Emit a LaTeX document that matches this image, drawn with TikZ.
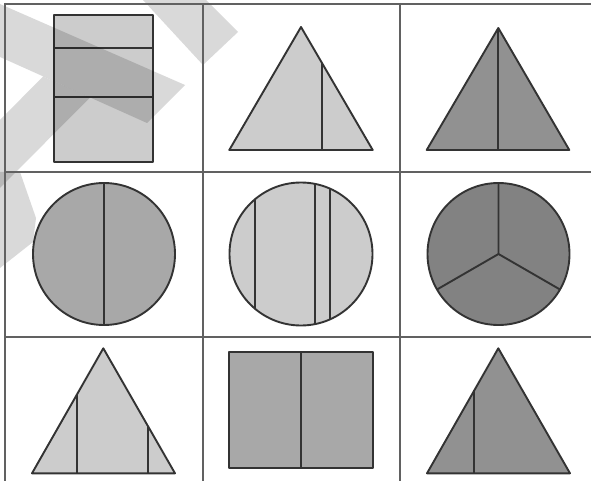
\documentclass[tikz,border=0pt]{standalone}
\begin{document}
\begin{tikzpicture}[x=1pt,y=-1pt,
  shp/.style={draw=black!80,line width=1.9pt,line join=round},
  grid/.style={draw=black!62,line width=2.5pt},
  light/.style={fill=black!20},
  mid/.style={fill=black!34},
  dark/.style={fill=black!43},
  darker/.style={fill=black!49},
  wm/.style={fill=black,fill opacity=0.15,draw=none}]
\useasboundingbox (0,0) rectangle (591,481);
\fill[white] (0,0) rectangle (591,481);

% cell (0,0): rectangle with two horizontal lines
\coordinate (r1a) at (54,15); \coordinate (r1b) at (153,162);
\draw[shp,light] (r1a) rectangle (r1b);
\draw[shp] (54,48) -- (153,48) (54,97) -- (153,97);

% cell (0,1): triangle, line right of centre
\draw[shp,light] (301,27) -- (372.7,150) -- (229.3,150) -- cycle;
\draw[shp] (322,63) -- (322,150);

% cell (0,2): triangle halved
\draw[shp,dark] (498.3,28) -- (569.3,150) -- (426.7,150) -- cycle;
\draw[shp] (498.3,28) -- (498.3,150);

% cell (1,0): circle halved
\coordinate (c1) at (104,254);
\draw[shp,mid] (c1) circle (71);
\draw[shp] (104,183) -- (104,325);

% cell (1,1): circle with three chords
\coordinate (c2) at (301,254);
\draw[shp,light] (c2) circle (71.5);
\draw[shp] (255,{254-sqrt(71.5*71.5-46*46)}) -- (255,{254+sqrt(71.5*71.5-46*46)});
\draw[shp] (315,{254-sqrt(71.5*71.5-14*14)}) -- (315,{254+sqrt(71.5*71.5-14*14)});
\draw[shp] (330,{254-sqrt(71.5*71.5-29*29)}) -- (330,{254+sqrt(71.5*71.5-29*29)});

% cell (1,2): circle in thirds
\coordinate (c3) at (498.5,254);
\draw[shp,darker] (c3) circle (71);
\draw[shp] (c3) -- ++(0,-71) (c3) -- ++(-61.5,35.5) (c3) -- ++(61.5,35.5);

% cell (2,0): triangle with two lines
\draw[shp,light] (103.3,348.3) -- (175,473.3) -- (32,473.3) -- cycle;
\draw[shp] (76.7,394.5) -- (76.7,473.3) (148.3,426) -- (148.3,473.3);

% cell (2,1): rectangle halved
\draw[shp,mid] (229.3,351.7) rectangle (372.7,467.7);
\draw[shp] (300.7,351.7) -- (300.7,467.7);

% cell (2,2): triangle with line left of centre
\draw[shp,dark] (498.3,348.3) -- (570,473.3) -- (427,473.3) -- cycle;
\draw[shp] (474,390) -- (474,473.3);

% watermark
\fill[wm] (0,4) -- (185,85) -- (147,123) -- (0,57) -- cycle;
\fill[wm] (43,76.5) -- (90,97.5) -- (0,188) -- (0,120) -- cycle;
\fill[wm] (143,0) -- (206,0) -- (238,32) -- (203,65) -- cycle;
\fill[wm] (0,172) -- (20,172) -- (36,218) -- (33,242) -- (0,268) -- cycle;

% grid
\draw[grid] (5,4) -- (591,4);
\draw[grid] (5,172) -- (591,172);
\draw[grid] (5,337) -- (591,337);
\draw[grid] (5,3) -- (5,481);
\draw[grid] (203,3) -- (203,481);
\draw[grid] (400,3) -- (400,481);
\end{tikzpicture}
\end{document}
